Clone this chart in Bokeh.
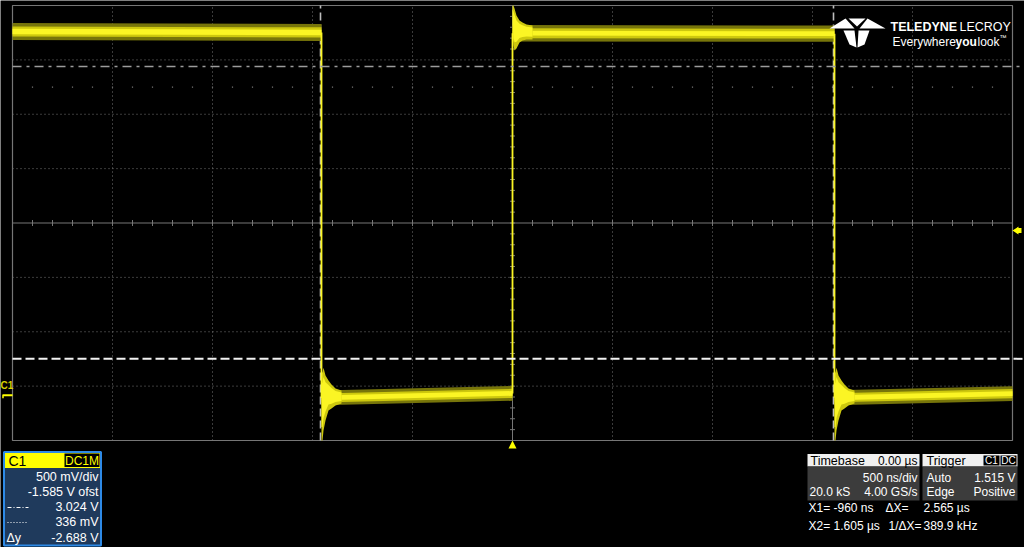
import numpy as np
from bokeh.plotting import figure
from bokeh.models import Range1d
from bokeh.core.properties import value
from bokeh.embed import file_html
from bokeh.resources import INLINE

VOLTS_PER_DIV = 0.5
OFFSET_V = -1.585
TIME_PER_DIV_US = 0.5
SAMPLES_K = 20.0
SAMPLE_RATE_GS = 4.00

# trace: flat segments between edges (time in µs, level in V)
seg_start_us = [-2.5, -0.955, 0.0, 1.61]
seg_end_us = [-0.955, 0.0, 1.61, 2.5]
seg_level_start_v = [3.346, -0.024, 3.330, -0.022]
seg_level_end_v = [3.337, 0.018, 3.326, 0.016]
noise_outer_v = [0.078, 0.068, 0.075, 0.068]
noise_mid_v = [0.047, 0.042, 0.045, 0.042]
noise_core_v = [0.026, 0.022, 0.022, 0.022]

edge_time_us = [-0.955, 0.0, 1.61]
edge_kind = ["fall", "rise", "fall"]

# ringing envelope after each edge
ring_offset_ns = [0, 5, 10, 20, 35, 50, 70, 100]
rise_ring_upper_v = [3.585, 3.585, 3.557, 3.493, 3.447, 3.429, 3.41, 3.401]
rise_ring_lower_v = [3.355, 3.217, 3.171, 3.19, 3.245, 3.263, 3.272, 3.272]
fall_ring_upper_v = [0.21, 0.21, 0.255, 0.183, 0.137, 0.10, 0.063, 0.045]
fall_ring_lower_v = [-0.415, -0.415, -0.323, -0.231, -0.139, -0.121, -0.093, -0.075]

h_cursor_v = [3.024, 0.336]
v_cursor_us = [-0.960, 1.605]
trigger_level_v = 1.515
trigger_time_us = 0.0
ground_level_v = 0.0

# ---------------- screen geometry ----------------
W, H = 1024, 547
GL, GT, GW, GH = 12, 5, 1000, 435
center_v = -OFFSET_V
px_per_us = 100.0 / TIME_PER_DIV_US
px_per_v = (GH / 8.0) / VOLTS_PER_DIV
t_left = -5 * TIME_PER_DIV_US
v_top = center_v + 4 * VOLTS_PER_DIV
v_bot = center_v - 4 * VOLTS_PER_DIV
x0 = t_left - GL / px_per_us
y0 = v_top + GT / px_per_v


def fx(px):
    return x0 + px / px_per_us


def fy(py):
    return y0 - py / px_per_v


DX = 1.0 / px_per_us
DY = 1.0 / px_per_v

p = figure(width=W, height=H,
           x_range=Range1d(x0, x0 + W / px_per_us),
           y_range=Range1d(y0 - H / px_per_v, y0),
           x_axis_type=None, y_axis_type=None,
           toolbar_location=None, output_backend="svg",
           background_fill_color="black", border_fill_color="black",
           outline_line_color=None, min_border=0)

GRID_C = "#767676"
# dotted graticule
for k in range(1, 10):
    if k == 5:
        continue
    t = t_left + k * TIME_PER_DIV_US
    p.segment(x0=[t], y0=[v_bot], x1=[t], y1=[v_top], line_color=GRID_C,
              line_width=1, line_dash="1 3")
for k in range(1, 8):
    if k == 4:
        continue
    v = v_bot + k * VOLTS_PER_DIV
    p.segment(x0=[t_left], y0=[v], x1=[-t_left], y1=[v], line_color=GRID_C,
              line_width=1, line_dash="1 3")

# row of faint dots
dot_t = np.round(np.arange(t_left + 0.1, -t_left - 0.05, 0.1), 3)
p.scatter(x=dot_t, y=[center_v + 2.5 * VOLTS_PER_DIV] * len(dot_t), marker="square",
          size=1.2, fill_color=GRID_C, line_color=None)

# centre axes with minor ticks
p.segment(x0=[t_left], y0=[center_v], x1=[-t_left], y1=[center_v], line_color=GRID_C, line_width=1)
p.segment(x0=[0], y0=[v_bot], x1=[0], y1=[v_top], line_color=GRID_C, line_width=1)
tick_t = np.round(np.arange(t_left + 0.1, -t_left - 0.05, 0.1), 3)
p.segment(x0=tick_t, y0=center_v - 3 * DY, x1=tick_t, y1=center_v + 3 * DY,
          line_color=GRID_C, line_width=1)
tick_v = np.round(np.arange(v_bot + 0.1, v_top - 0.05, 0.1), 4)
p.segment(x0=-2.5 * DX, y0=tick_v, x1=2.5 * DX, y1=tick_v, line_color=GRID_C, line_width=1)

# border
p.quad(left=[t_left], right=[-t_left], top=[v_top], bottom=[v_bot],
       fill_color=None, line_color=GRID_C, line_width=1.2)

# vertical cursors
for t in v_cursor_us:
    p.segment(x0=[t], y0=[v_bot], x1=[t], y1=[v_top], line_color="#bdbdbd",
              line_width=1.6, line_dash="8 4")

# ---------------- trace ----------------
OUTER_C, MID_C, CORE_C = "#77750a", "#cdc80e", "#fbf524"
for i in range(len(seg_start_us)):
    tt = [seg_start_us[i], seg_end_us[i]]
    lv = np.array([seg_level_start_v[i], seg_level_end_v[i]])
    p.varea(x=tt, y1=lv - noise_outer_v[i], y2=lv + noise_outer_v[i], fill_color=OUTER_C)
    p.varea(x=tt, y1=lv - noise_mid_v[i], y2=lv + noise_mid_v[i], fill_color=MID_C)
    p.varea(x=tt, y1=lv - noise_core_v[i], y2=lv + noise_core_v[i], fill_color=CORE_C)

for j, te in enumerate(edge_time_us):
    ring_t = te + np.array(ring_offset_ns) / 1000.0
    if edge_kind[j] == "rise":
        up, lo = rise_ring_upper_v, rise_ring_lower_v
    else:
        up, lo = fall_ring_upper_v, fall_ring_lower_v
    up = np.array(up)
    lo = np.array(lo)
    p.varea(x=ring_t, y1=lo, y2=up, fill_color=MID_C)
    p.varea(x=ring_t, y1=lo * 0.8 + up * 0.2, y2=up * 0.85 + lo * 0.15, fill_color=CORE_C)
    v_before = seg_level_end_v[j]
    v_after = seg_level_start_v[j + 1]
    p.segment(x0=[te], y0=[v_before], x1=[te], y1=[v_after], line_color=CORE_C, line_width=1.8)

# horizontal cursors
p.segment(x0=[t_left], y0=[h_cursor_v[0]], x1=[fx(1020)], y1=[h_cursor_v[0]],
          line_color="#9c9c9c", line_width=1.6, line_dash="9 5 3 5")
p.segment(x0=[t_left], y0=[h_cursor_v[1]], x1=[fx(1024)], y1=[h_cursor_v[1]],
          line_color="#f2f2f2", line_width=2, line_dash="9 4")

# trigger markers
YEL = "#ffff00"
p.patch(x=[trigger_time_us, trigger_time_us - 4 * DX, trigger_time_us + 4 * DX],
        y=[v_bot, v_bot - 8 * DY, v_bot - 8 * DY], fill_color=YEL, line_color=None)
p.patch(x=[-t_left, -t_left + 6 * DX, -t_left + 6 * DX, -t_left + 9 * DX, -t_left + 9 * DX, -t_left + 6 * DX, -t_left + 6 * DX],
        y=[trigger_level_v, trigger_level_v + 4 * DY, trigger_level_v + 2.5 * DY, trigger_level_v + 2.5 * DY,
           trigger_level_v - 2.5 * DY, trigger_level_v - 2.5 * DY, trigger_level_v - 4 * DY],
        fill_color=YEL, line_color=None)
# ground marker
p.segment(x0=[fx(2)], y0=[ground_level_v], x1=[fx(12)], y1=[ground_level_v], line_color=YEL, line_width=2)
p.segment(x0=[fx(2.5)], y0=[ground_level_v], x1=[fx(2.5)], y1=[ground_level_v - 3 * DY], line_color=YEL, line_width=1.5)

FONT = "Liberation Sans"


def txt(px, py, s, size="12px", color="white", align="left", style="normal", font=FONT, baseline="middle"):
    p.text(x=[fx(px)], y=[fy(py)], text=[s], text_font=value(font), text_font_size=size,
           text_color=color, text_align=align, text_baseline=baseline, text_font_style=style)


def box(l, r, t, b, color, line=None, lw=1):
    p.quad(left=[fx(l)], right=[fx(r)], top=[fy(t)], bottom=[fy(b)], fill_color=color,
           line_color=line, line_width=lw)


txt(0, 385, "C1", size="10px", color="#d6d200", style="bold")

# ---------------- logo ----------------
logo_px = [
    ([829, 845, 854], [28, 18, 28]),
    ([859, 867, 885], [28, 18, 28]),
    ([848, 865, 856.5], [18, 18, 26]),
    ([843, 854, 856, 849], [30, 30, 47, 44]),
    ([858, 869, 864, 857], [30, 30, 44, 47]),
]
p.patches(xs=[[fx(a) for a in xs] for xs, ys in logo_px],
          ys=[[fy(b) for b in ys] for xs, ys in logo_px],
          fill_color="white", line_color=None)
txt(890, 26.5, "TELEDYNE", size="12.5px", style="bold")
txt(959, 26.5, "LECROY", size="12.5px")
txt(892, 41, "Everywhere", size="12px")
txt(955, 41, "you", size="12px", style="bold")
txt(977, 41, "look", size="12px")
txt(999, 37, "™", size="7px")

# ---------------- C1 panel ----------------
box(4, 100, 452, 467.5, "#ffff00")
box(4, 100, 467.5, 544.5, "#1f3a5c")
p.quad(left=[fx(3.5)], right=[fx(100.5)], top=[fy(451.5)], bottom=[fy(545)],
       fill_color=None, line_color="#2e8ae6", line_width=2)
txt(8, 460, "C1", size="14px", color="black")
box(64, 99, 453, 466.5, "black")
txt(81.5, 460, "DC1M", size="12px", color="#ffff00", align="center")
dy_v = h_cursor_v[1] - h_cursor_v[0]
rows = [f"{VOLTS_PER_DIV * 1000:.0f} mV/div", f"{OFFSET_V:.3f} V ofst",
        f"{h_cursor_v[0]:.3f} V", f"{h_cursor_v[1] * 1000:.0f} mV", f"{dy_v:.3f} V"]
for k, s in enumerate(rows):
    txt(98, 476 + k * 15.25, s, size="12.5px", align="right")
p.segment(x0=[fx(7)], y0=[fy(507)], x1=[fx(28)], y1=[fy(507)], line_color="white", line_width=1, line_dash="4 2 1 2")
p.segment(x0=[fx(7)], y0=[fy(522)], x1=[fx(28)], y1=[fy(522)], line_color="white", line_width=1, line_dash="1 2")
txt(6, 537, "Δy", size="12.5px")

# ---------------- Timebase / Trigger panels ----------------
box(807, 919, 453.5, 466, "#f0f0f0")
box(807, 919, 466, 500, "#3c3c3c")
txt(810, 460, "Timebase", size="12.5px", color="black")
txt(917, 460, "0.00 µs", size="12px", color="black", align="right")
txt(917, 477, f"{TIME_PER_DIV_US * 1000:.0f} ns/div", align="right")
txt(809, 491, f"{SAMPLES_K:.1f} kS")
txt(917, 491, f"{SAMPLE_RATE_GS:.2f} GS/s", align="right")

box(922, 1017, 453.5, 466, "#f0f0f0")
box(922, 1017, 466, 500, "#3c3c3c")
txt(926, 460, "Trigger", size="12.5px", color="black")
box(983, 999, 455, 465, "black")
box(1000, 1016, 455, 465, "black")
txt(991, 460, "C1", size="10px", color="white", align="center")
txt(1008, 460, "DC", size="10px", color="white", align="center")
txt(926, 477, "Auto")
txt(1015, 477, f"{trigger_level_v:.3f} V", align="right")
txt(926, 491, "Edge")
txt(1015, 491, "Positive", align="right")

dx_us = v_cursor_us[1] - v_cursor_us[0]
txt(808, 507, f"X1= {v_cursor_us[0] * 1000:.0f} ns")
txt(885, 507, "ΔX=")
txt(923, 507, f"{dx_us:.3f} µs")
txt(808, 525, f"X2= {v_cursor_us[1]:.3f} µs")
txt(921, 525, "1/ΔX=", align="right")
txt(923, 525, f"{1000.0 / dx_us:.1f} kHz")

open("out.html", "w").write(file_html(p, INLINE))
